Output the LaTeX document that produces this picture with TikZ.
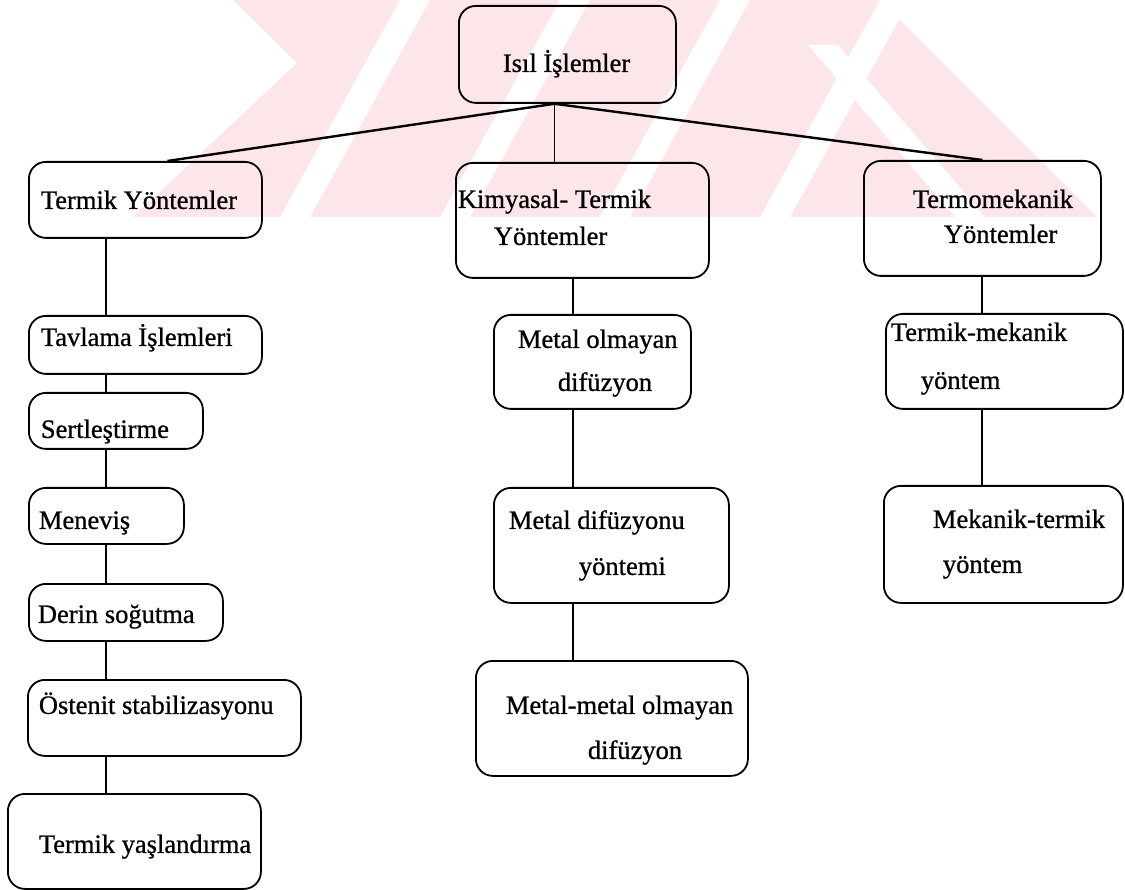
\documentclass[tikz,border=0pt]{standalone}
\usepackage{fontspec}
\setmainfont{Liberation Serif}
\newfontfamily\scanfont{Liberation Serif}[FakeBold=0.8]
\usepackage{color}

\definecolor{wmpink}{RGB}{252,230,234}
% text block inside a box: box width, left indent, lines
\newcommand{\boxtext}[3]{\makebox[#1][l]{\hspace*{#2}\begin{tabular}[t]{@{}l@{}}#3\end{tabular}}}

\tikzset{
	box/.style={draw, line width=1.8pt, rounded corners=17pt, anchor=north west, inner sep=0pt, font=\scanfont\fontsize{26.5}{45}\selectfont},
	branch/.style={line width=2.4pt},
	stem/.style={line width=1.6pt}
}

\begin{document}
\begin{tikzpicture}[x=1pt, y=-1pt]
	\useasboundingbox (0,0) rectangle (1125,890);
	\fill[white] (0,0) rectangle (1125,890);
	% watermark
	\fill[wmpink] (233,0)--(880,0)--(1097,217)--(133,217)--(297,63)--cycle;
	\fill[white] (280,217)--(310,217)--(430,0)--(400,0)--cycle;
	\fill[white] (440,217)--(470,217)--(590,0)--(560,0)--cycle;
	\fill[white] (600,217)--(630,217)--(750,0)--(720,0)--cycle;
	\fill[white] (760,217)--(790,217)--(910,0)--(880,0)--cycle;
	\fill[white] (808,45)--(838,45)--(985,217)--(955,217)--cycle;

	\node[box, text height=66pt, text depth=31pt] (root) at (458,5) {\boxtext{217pt}{44pt}{Isıl İşlemler}};

	\node[box, text height=47pt, text depth=29pt] (termik) at (28,161) {\boxtext{233pt}{12pt}{Termik Yöntemler}};
	\node[box, text height=45pt, text depth=70pt] (kimya) at (455,162) {\boxtext{253pt}{2pt}{Kimyasal- Termik\\[-8pt]\hspace*{36pt}Yöntemler}};
	\node[box, text height=47pt, text depth=68pt] (termo) at (863,160) {\boxtext{237pt}{49pt}{Termomekanik\\[-10pt]\hspace*{31pt}Yöntemler}};

	\node[box, text height=30pt, text depth=28pt] (tavlama) at (28,315) {\boxtext{233pt}{12pt}{Tavlama İşlemleri}};
	\node[box, text height=45pt, text depth=11pt] (sertles) at (28,392) {\boxtext{174pt}{12pt}{Sertleştirme}};
	\node[box, text height=41pt, text depth=15pt] (menevis) at (28,487) {\boxtext{155pt}{10pt}{Meneviş}};
	\node[box, text height=39pt, text depth=18pt] (derin) at (28,583) {\boxtext{194pt}{9pt}{Derin soğutma}};
	\node[box, text height=34pt, text depth=42pt] (ostenit) at (27,679) {\boxtext{273pt}{11pt}{Östenit stabilizasyonu}};
	\node[box, text height=59pt, text depth=36pt] (yaslan) at (7,793) {\boxtext{253pt}{31pt}{Termik yaşlandırma}};

	\node[box, text height=33pt, text depth=61pt] (metalolm) at (493,314) {\boxtext{197pt}{24pt}{Metal olmayan\\[-2pt]\hspace*{40pt}difüzyon}};
	\node[box, text height=41pt, text depth=74pt] (metaldif) at (493,487) {\boxtext{235pt}{15pt}{Metal difüzyonu\\[1pt]\hspace*{70pt}yöntemi}};
	\node[box, text height=53pt, text depth=62pt] (metalmet) at (475,660) {\boxtext{272pt}{30pt}{Metal-metal olmayan\\\hspace*{82pt}difüzyon}};

	\node[box, text height=27pt, text depth=68pt] (termikmek) at (885,313) {\boxtext{237pt}{5pt}{Termik-mekanik\\[3pt]\hspace*{30pt}yöntem}};
	\node[box, text height=42pt, text depth=75pt] (mekterm) at (883,485) {\boxtext{239pt}{49pt}{Mekanik-termik\\\hspace*{10pt}yöntem}};

	% branches from the top box
	\coordinate (hub) at ([xshift=-13pt]root.south);
	\draw[branch] (hub) -- ([xshift=22pt]termik.north);
	\draw[stem] (hub) -- (hub |- kimya.north);
	\draw[branch] (hub) -- (termo.north);

	% columns
	\coordinate (lspine) at (106,0);
	\coordinate (mspine) at (573,0);
	\coordinate (rspine) at (982,0);
	\draw[stem] (termik.south -| lspine) -- (tavlama.north -| lspine);
	\draw[stem] (tavlama.south -| lspine) -- (sertles.north -| lspine);
	\draw[stem] (sertles.south -| lspine) -- (menevis.north -| lspine);
	\draw[stem] (menevis.south -| lspine) -- (derin.north -| lspine);
	\draw[stem] (derin.south -| lspine) -- (ostenit.north -| lspine);
	\draw[stem] (ostenit.south -| lspine) -- (yaslan.north -| lspine);
	\draw[stem] (kimya.south -| mspine) -- (metalolm.north -| mspine);
	\draw[stem] (metalolm.south -| mspine) -- (metaldif.north -| mspine);
	\draw[stem] (metaldif.south -| mspine) -- (metalmet.north -| mspine);
	\draw[stem] (termo.south -| rspine) -- (termikmek.north -| rspine);
	\draw[stem] (termikmek.south -| rspine) -- (mekterm.north -| rspine);
\end{tikzpicture}
\end{document}
